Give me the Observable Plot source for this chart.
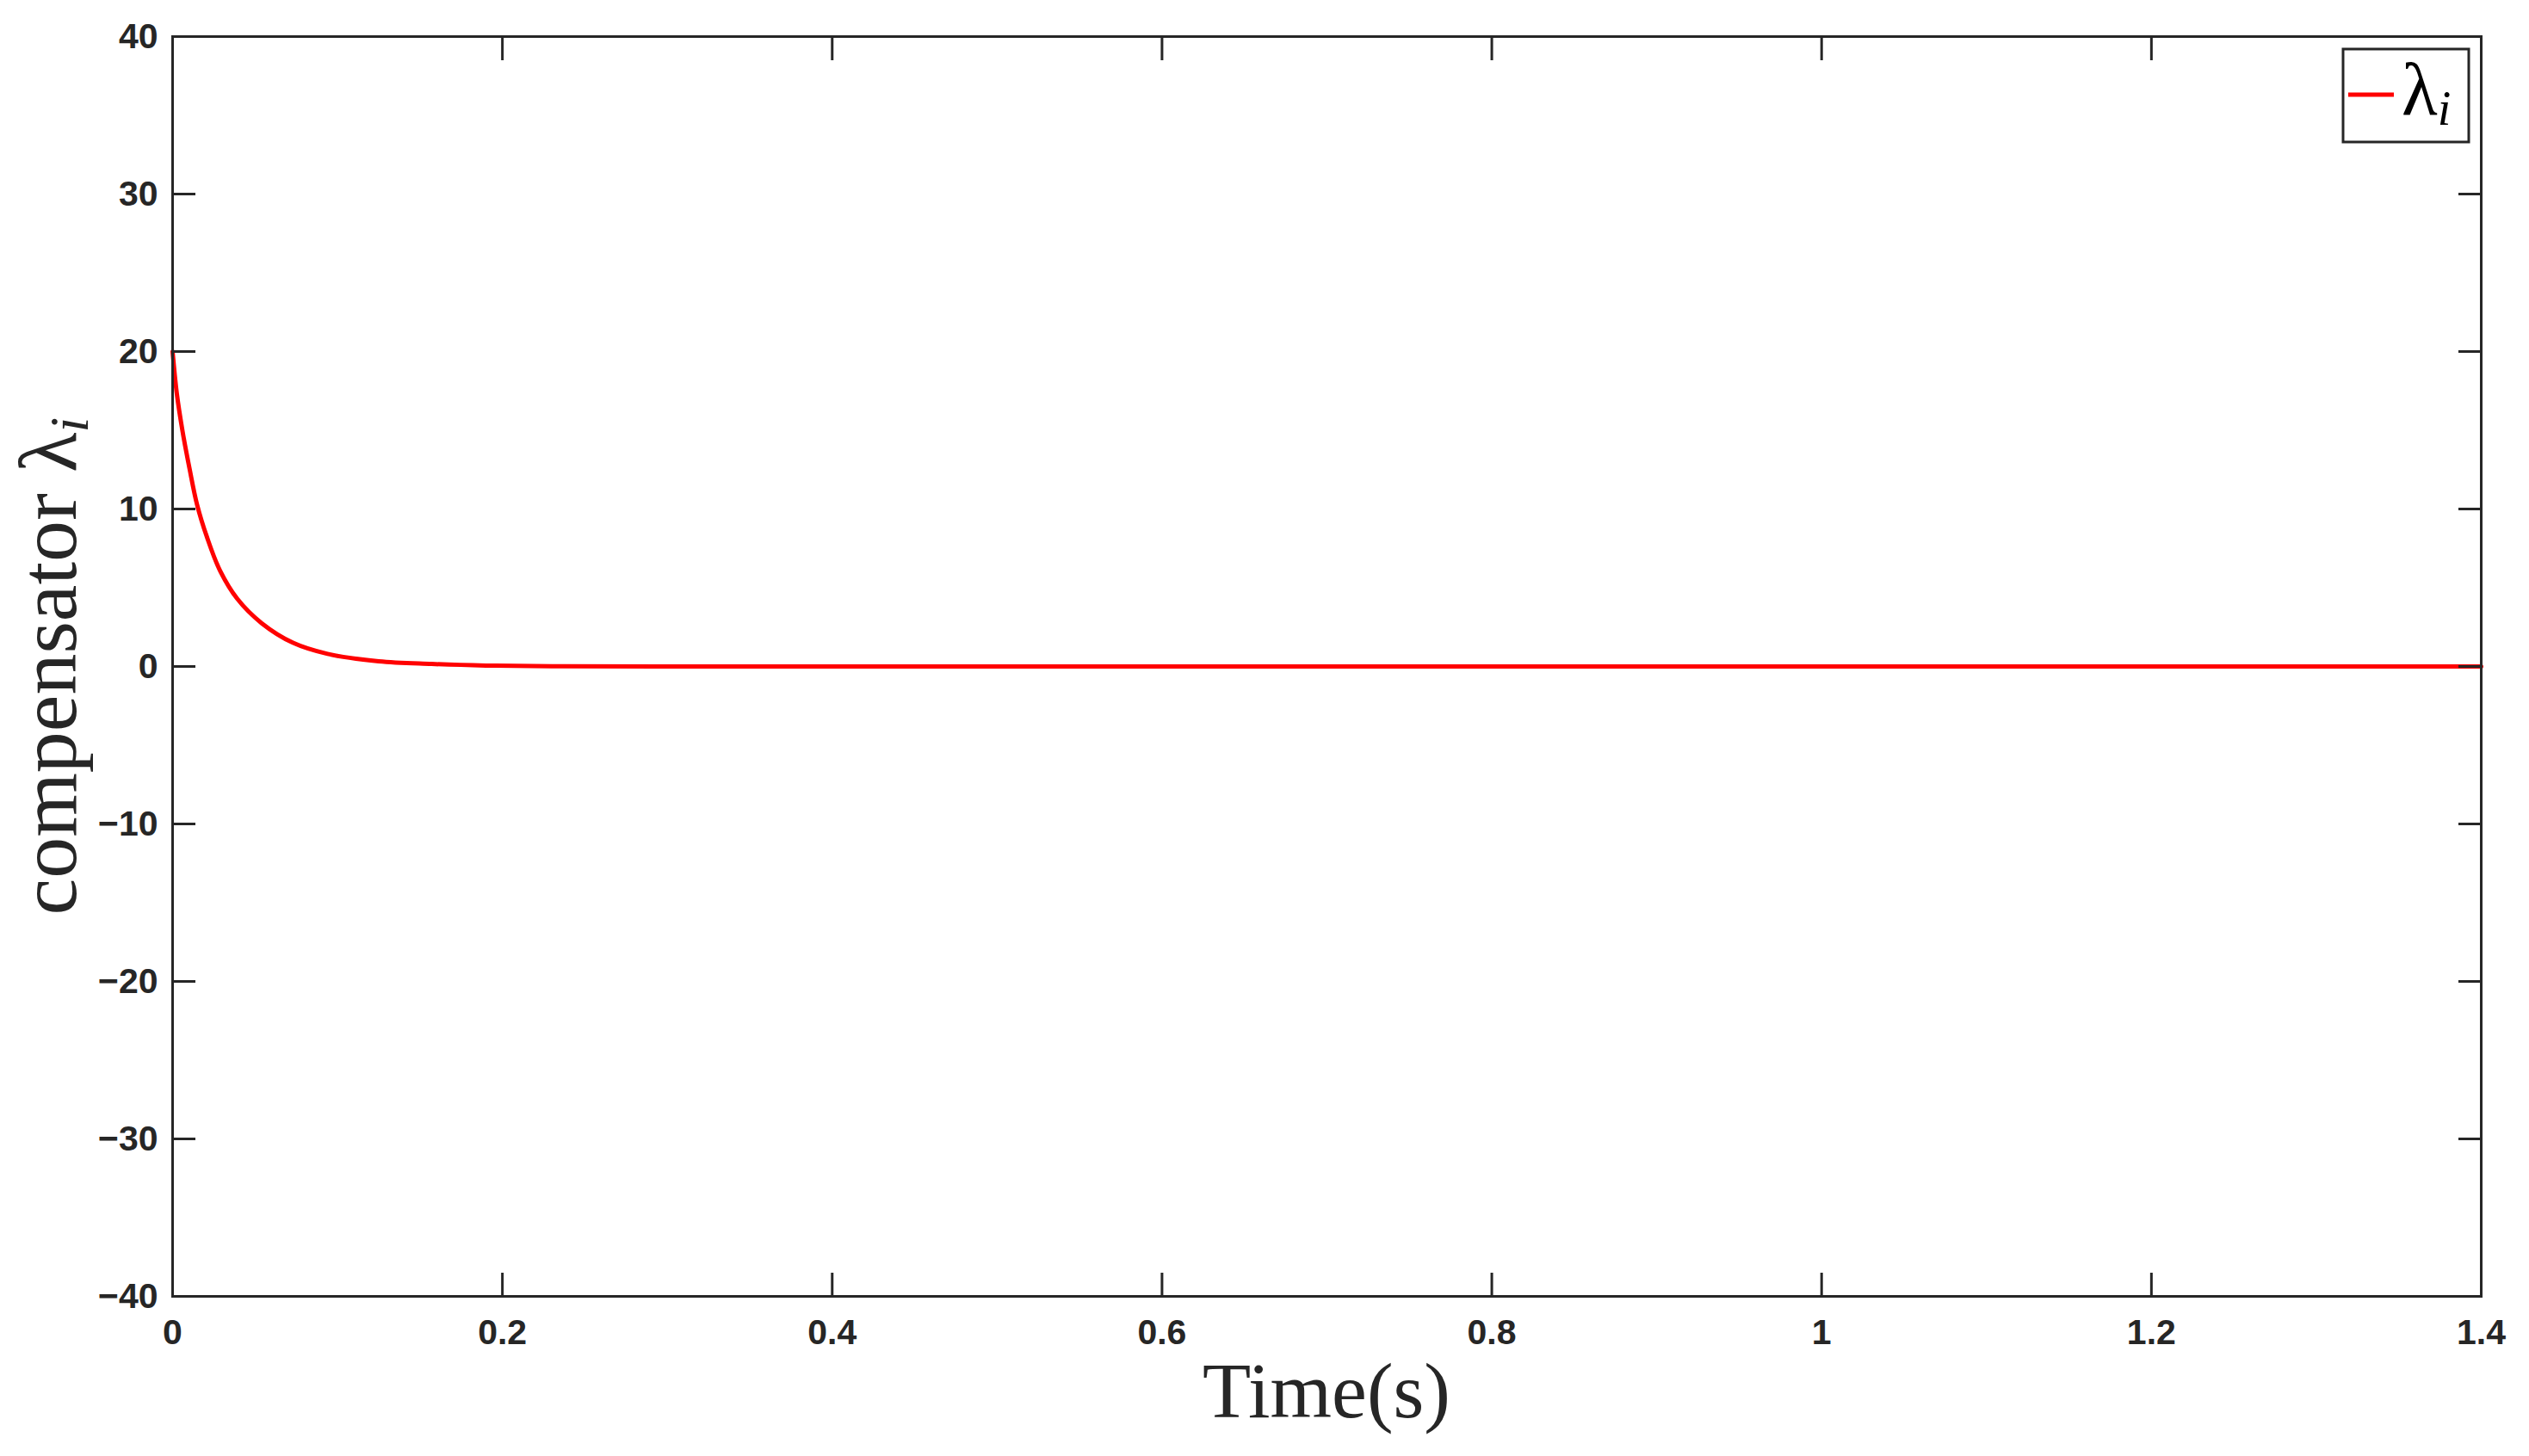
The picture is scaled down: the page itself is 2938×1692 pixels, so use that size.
<!DOCTYPE html>
<html><head><meta charset="utf-8">
<script src="https://cdn.jsdelivr.net/npm/d3@7"></script>
<script src="https://cdn.jsdelivr.net/npm/@observablehq/plot@0.6"></script>
<style>html,body{margin:0;padding:0;background:#fff} svg{display:block}</style>
</head><body><div id="chart"></div>
<script>
// Data
const time   = [0, 0.0026, 0.0061, 0.0104, 0.0148, 0.0209, 0.0287, 0.0392, 0.054, 0.0731, 0.094, 0.125, 0.157, 0.19, 0.23, 0.3, 0.6, 1.0, 1.4];
const lambda = [20, 17.3, 14.9, 12.5, 10.3, 8.2, 6.1, 4.3, 2.75, 1.5, 0.8, 0.33, 0.16, 0.06, 0.015, 0, 0, 0, 0];
const xTicks = [0, 0.2, 0.4, 0.6, 0.8, 1, 1.2, 1.4];
const yTicks = [-40, -30, -20, -10, 0, 10, 20, 30, 40];
const xLabel = "Time(s)";
const yLabel = "compensator ";
const seriesName = "λ";
const seriesSub = "i";

const data = time.map((t, i) => ({t, v: lambda[i]}));
const ink = "#262626";
const tickFont = "'Liberation Sans', Arial, sans-serif";
const serif = "'Liberation Serif', 'Times New Roman', serif";
const fmt = d => (d < 0 ? "\u2212" + String(-d) : String(d));

const chart = Plot.plot({
  width: 2938, height: 1692,
  marginLeft: 200, marginRight: 56, marginTop: 42, marginBottom: 186,
  style: {background: "#fff", fontFamily: tickFont},
  x: {domain: [0, 1.4]},
  y: {domain: [-40, 40]},
  marks: [
    Plot.line(data, {x: "t", y: "v", stroke: "#ff0000", strokeWidth: 5, curve: "catmull-rom"}),
    Plot.frame({stroke: ink, strokeWidth: 3}),
    Plot.axisX(xTicks, {anchor: "bottom", tickSize: -27, tickPadding: 53, tickFormat: fmt, fontSize: 41, fontWeight: "bold", color: ink, strokeWidth: 3, label: null}),
    Plot.axisX(xTicks, {anchor: "top", tickSize: -27, tickFormat: () => "", color: ink, strokeWidth: 3, label: null}),
    Plot.axisY(yTicks, {anchor: "left", tickSize: -27, tickPadding: 44, tickFormat: fmt, fontSize: 41, fontWeight: "bold", color: ink, strokeWidth: 3, label: null}),
    Plot.axisY(yTicks, {anchor: "right", tickSize: -27, tickFormat: () => "", color: ink, strokeWidth: 3, label: null})
  ]
});
document.getElementById("chart").appendChild(chart);

const sx = chart.scale("x"), sy = chart.scale("y");
const [x0, x1] = sx.range;
const [yb, yt] = sy.range;
const svg = d3.select(chart);

// x axis title
svg.append("text")
  .attr("x", (x0 + x1) / 2).attr("y", yb + 141)
  .attr("text-anchor", "middle")
  .attr("font-family", serif).attr("font-size", 92).attr("fill", ink)
  .text(xLabel);

// y axis title
const ytl = svg.append("text")
  .attr("transform", `translate(${x0 - 112},${(yb + yt) / 2}) rotate(-90)`)
  .attr("text-anchor", "middle")
  .attr("font-family", serif).attr("font-size", 96).attr("fill", ink);
ytl.append("tspan").text(yLabel);
ytl.append("tspan").text(seriesName);
ytl.append("tspan").attr("font-style", "italic").attr("font-size", 64).attr("dy", 14).text(seriesSub);

// legend
const lw = 146, lh = 108;
const lx = x1 - 14 - lw, ly = yt + 15;
const lg = svg.append("g");
lg.append("rect").attr("x", lx).attr("y", ly).attr("width", lw).attr("height", lh)
  .attr("fill", "#fff").attr("stroke", ink).attr("stroke-width", 3);
lg.append("line").attr("x1", lx + 6).attr("x2", lx + 59).attr("y1", ly + 53).attr("y2", ly + 53)
  .attr("stroke", "#ff0000").attr("stroke-width", 5);
const lt = lg.append("text").attr("x", lx + 68).attr("y", ly + 76)
  .attr("text-anchor", "start")
  .attr("font-family", serif).attr("font-size", 86).attr("fill", "#000");
lt.append("tspan").text(seriesName);
lt.append("tspan").attr("font-style", "italic").attr("font-size", 56).attr("dy", 12).text(seriesSub);
</script>
</body></html>
